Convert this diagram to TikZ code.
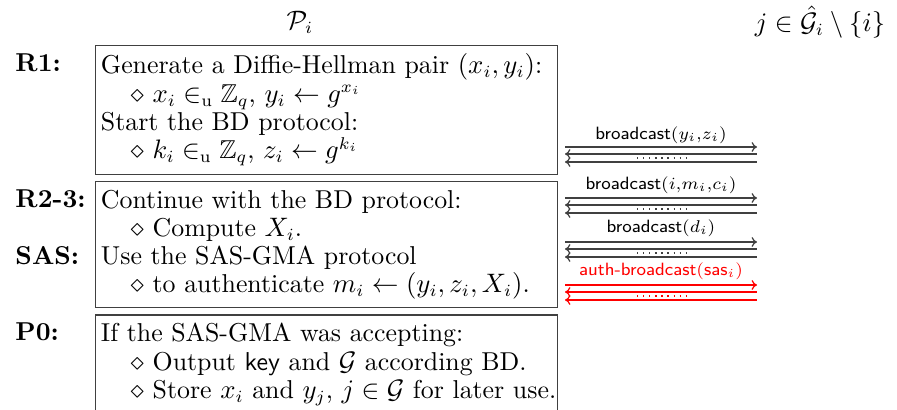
\documentclass[tikz,border=0pt]{standalone}
\usepackage{amsmath, amssymb}
\usetikzlibrary{arrows.meta, positioning, calc}

\begin{document}
\begin{tikzpicture}[
    x=0.41pt, y=-0.41pt,
    node distance=2.4pt,
    every node/.style={font=\fontsize{10.6pt}{11.6pt}\selectfont},
    phase/.style={rectangle, draw=black!75, line width=0.5pt, text width=185pt, align=left, inner xsep=2.2pt, inner ysep=3.4pt},
    round/.style={anchor=north west, font=\fontsize{10.6pt}{11.6pt}\selectfont\bfseries, inner xsep=0pt, inner ysep=3.4pt},
    msglabel/.style={font=\fontsize{7.3pt}{8.5pt}\selectfont, inner sep=1pt},
    msg/.style={draw=black!75, line width=0.5pt},
    send/.style={msg, -{To[length=2.2pt, width=4pt]}},
    recv/.style={msg, {To[length=2.2pt, width=4pt]}-},
    gap/.style={draw=black!75, line width=0.5pt, dash pattern=on 0.5pt off 2pt}
]
\useasboundingbox (0,0) rectangle (897,410);

% Column heads
\node (party) at (300,22) {$\mathcal{P}_i$};
\node (others) at (820,22) {$j\in\hat{\mathcal{G}}_i\setminus\{i\}$};

% Protocol phases
\node[phase, anchor=north west] (box1) at (95,45) {Generate a Diffie-Hellman pair $(x_i,y_i)$:\\
  \hspace*{1.15em}$\diamond$ $x_i\in_{\mathrm{u}}\mathbb{Z}_q$, $y_i\leftarrow g^{x_i}$\\
  Start the BD protocol:\\
  \hspace*{1.15em}$\diamond$ $k_i\in_{\mathrm{u}}\mathbb{Z}_q$, $z_i\leftarrow g^{k_i}$};
\node[phase, below=of box1] (box2) {Continue with the BD protocol:\\
  \hspace*{1.15em}$\diamond$ Compute $X_i$.\\
  Use the SAS-GMA protocol\\
  \hspace*{1.15em}$\diamond$ to authenticate $m_i\leftarrow(y_i,z_i,X_i)$.};
\node[phase, below=of box2] (box3) {If the SAS-GMA was accepting:\\
  \hspace*{1.15em}$\diamond$ Output \textsf{key} and $\mathcal{G}$ according BD.\\
  \hspace*{1.15em}\mbox{$\diamond$ Store $x_i$ and $y_j$,\ $j\in\mathcal{G}$ for later use.}};

% Round labels
\coordinate (lblx) at (15,0);
\node[round] (r1) at (box1.north -| lblx) {R1:};
\node[round] (r23) at (box2.north -| lblx) {R2-3:};
\node[round] (sas) at ([yshift=-23.2pt]r23.north west) {SAS:};
\node[round] (p0) at (box3.north -| lblx) {P0:};

% Messages
\node[msglabel] (m1) at (661,135) {\textsf{broadcast}$(y_i{,}z_i)$};
\coordinate (m1w) at (565,147);
\coordinate (m1e) at (757,147);
\draw[send] (m1w) -- (m1e);
\draw[recv] ($(m1w)+(0,7)$) -- ($(m1e)+(0,7)$);
\draw[recv] ($(m1w)+(0,15)$) -- ($(m1e)+(0,15)$);
\draw[gap] ($(m1w)+(72,11)$) -- ($(m1e)+(-67,11)$);

\node[msglabel] (m2) at (661,185) {\textsf{broadcast}$(i{,}m_i{,}c_i)$};
\coordinate (m2w) at (565,198);
\coordinate (m2e) at (757,198);
\draw[send] (m2w) -- (m2e);
\draw[recv] ($(m2w)+(0,7)$) -- ($(m2e)+(0,7)$);
\draw[recv] ($(m2w)+(0,15)$) -- ($(m2e)+(0,15)$);
\draw[gap] ($(m2w)+(72,11)$) -- ($(m2e)+(-67,11)$);

\node[msglabel] (m3) at (661,228) {\textsf{broadcast}$(d_i)$};
\coordinate (m3w) at (565,242);
\coordinate (m3e) at (757,242);
\draw[send] (m3w) -- (m3e);
\draw[recv] ($(m3w)+(0,7)$) -- ($(m3e)+(0,7)$);
\draw[recv] ($(m3w)+(0,15)$) -- ($(m3e)+(0,15)$);
\draw[gap] ($(m3w)+(72,11)$) -- ($(m3e)+(-67,11)$);

\node[msglabel, text=red] (m4) at (661,271) {\textsf{auth-broadcast}$(\textsf{sas}_i)$};
\coordinate (m4w) at (565,285);
\coordinate (m4e) at (757,285);
\draw[send, draw=red] (m4w) -- (m4e);
\draw[recv, draw=red] ($(m4w)+(0,7)$) -- ($(m4e)+(0,7)$);
\draw[recv, draw=red] ($(m4w)+(0,15)$) -- ($(m4e)+(0,15)$);
\draw[gap, draw=red] ($(m4w)+(72,11)$) -- ($(m4e)+(-67,11)$);

\end{tikzpicture}
\end{document}
